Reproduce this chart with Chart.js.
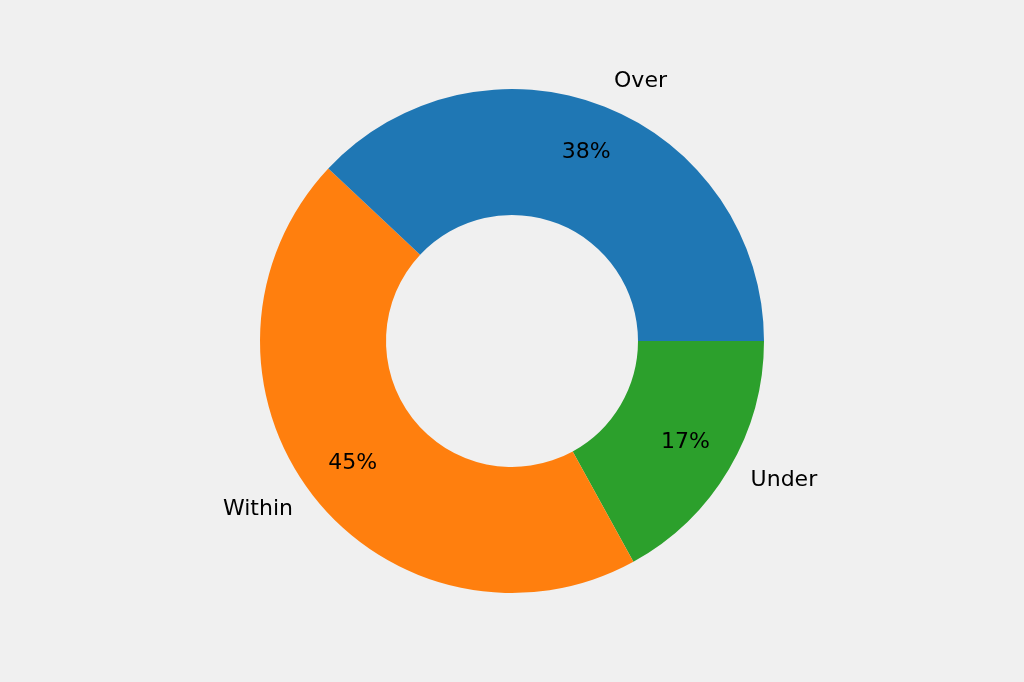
<!DOCTYPE html>
<html>
<head>
<meta charset="utf-8">
<script src="https://cdn.jsdelivr.net/npm/chart.js@4"></script>
<style>
  html, body { margin: 0; padding: 0; background: #f0f0f0; }
  #wrap { width: 1024px; height: 682px; }
</style>
</head>
<body>
<div id="wrap"><canvas id="myChart"></canvas></div>
<script>
// drawn clockwise from 3 o'clock, so order is reversed vs the legend order
const labels = ["Under", "Within", "Over"];
const shares = [17, 45, 38];
const colors = ["#2ca02c", "#ff7f0e", "#1f77b4"];

const labelFont = "22px 'DejaVu Sans', sans-serif";

// outside labels at 1.1 * radius, percentages at 0.8 * radius
const sliceLabels = {
  id: "sliceLabels",
  afterDatasetsDraw(chart) {
    const ctx = chart.ctx;
    const meta = chart.getDatasetMeta(0);
    const total = shares.reduce((a, b) => a + b, 0);
    ctx.save();
    ctx.font = labelFont;
    ctx.fillStyle = "#000";
    ctx.textBaseline = "middle";
    meta.data.forEach((arc, i) => {
      const p = arc.getProps(["x", "y", "startAngle", "endAngle", "outerRadius"], true);
      const mid = (p.startAngle + p.endAngle) / 2;
      const c = Math.cos(mid), s = Math.sin(mid);

      const pr = p.outerRadius * 0.8;
      ctx.textAlign = "center";
      ctx.fillText(Math.round(shares[i] / total * 100) + "%", p.x + c * pr, p.y + s * pr - 1);

      const lr = p.outerRadius * 1.1;
      ctx.textAlign = c >= 0 ? "left" : "right";
      ctx.fillText(labels[i], p.x + c * lr, p.y + s * lr - 2);
    });
    ctx.restore();
  }
};

const elementChart = document.querySelector("#myChart");

const configChart = {
  type: "doughnut",
  data: {
    labels: labels,
    datasets: [
      {
        data: shares,
        backgroundColor: colors,
        borderWidth: 0,
      },
    ],
  },
  options: {
    responsive: true,
    maintainAspectRatio: false,
    animation: false,
    rotation: 90,
    cutout: "50%",
    layout: { padding: { top: 89, bottom: 89 } },
    plugins: {
      legend: { display: false },
      tooltip: { enabled: false },
    },
  },
  plugins: [sliceLabels],
};

const myChart = new Chart(elementChart, configChart);
</script>
</body>
</html>
